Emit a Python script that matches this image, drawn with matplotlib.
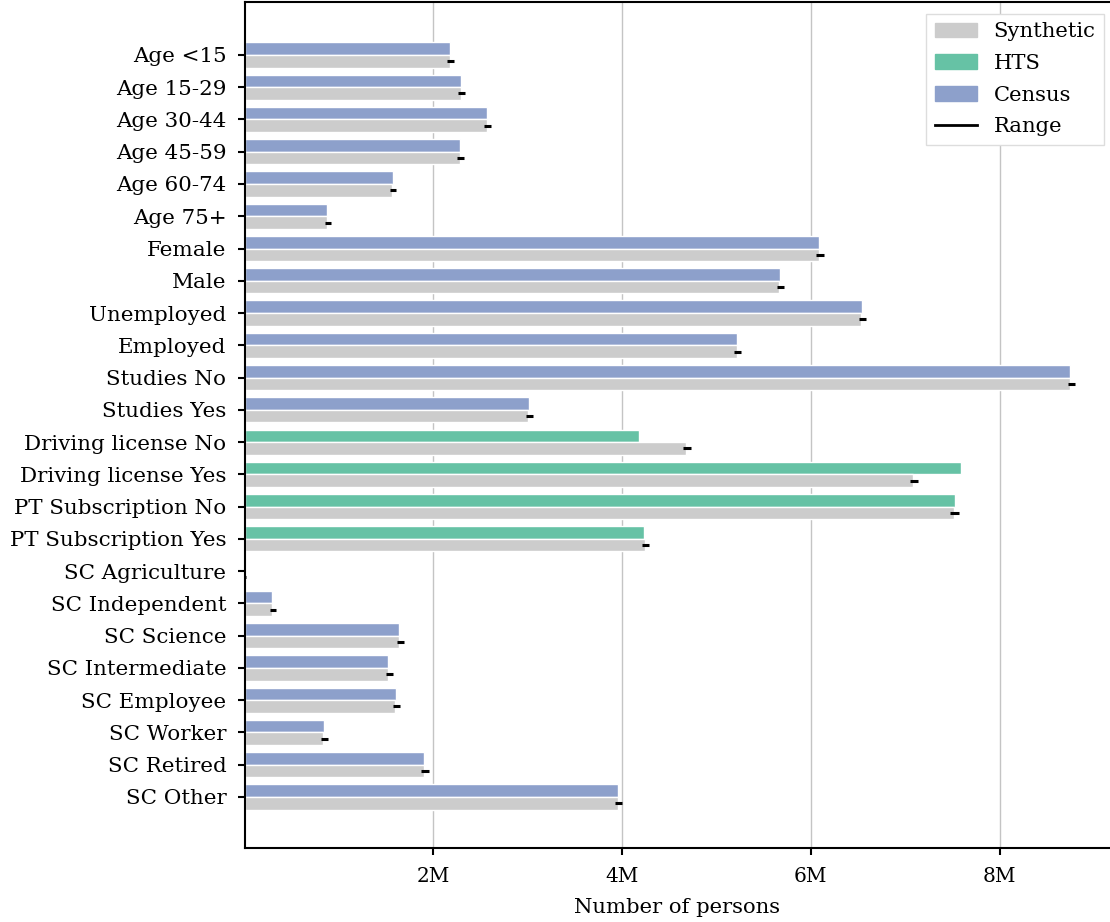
"""Comparaison population synthétique vs. recensement / HTS."""

import matplotlib

matplotlib.use("Agg")
import matplotlib.pyplot as plt
import numpy as np
from matplotlib.lines import Line2D
from matplotlib.patches import Patch
from matplotlib.ticker import FuncFormatter

plt.rcParams["font.family"] = ["DejaVu Serif"]

categories = [
    "Age <15", "Age 15-29", "Age 30-44", "Age 45-59", "Age 60-74", "Age 75+",
    "Female", "Male", "Unemployed", "Employed", "Studies No", "Studies Yes",
    "Driving license No", "Driving license Yes",
    "PT Subscription No", "PT Subscription Yes",
    "SC Agriculture", "SC Independent", "SC Science", "SC Intermediate",
    "SC Employee", "SC Worker", "SC Retired", "SC Other",
]
# source of the reference value for each category
reference_source = ["Census"] * 12 + ["HTS"] * 4 + ["Census"] * 8

# values in millions of persons
reference_values = [
    2.18, 2.29, 2.565, 2.28, 1.57, 0.875,
    6.09, 5.67, 6.54, 5.22, 8.75, 3.01,
    4.18, 7.59, 7.53, 4.235,
    0.015, 0.295, 1.64, 1.525, 1.60, 0.84, 1.905, 3.96,
]
synthetic_values = [
    2.175, 2.29, 2.565, 2.28, 1.565, 0.87,
    6.09, 5.665, 6.535, 5.215, 8.745, 3.005,
    4.68, 7.085, 7.515, 4.24,
    0.015, 0.29, 1.64, 1.52, 1.595, 0.835, 1.90, 3.955,
]
range_low = [
    2.15, 2.265, 2.54, 2.255, 1.54, 0.85,
    6.06, 5.64, 6.51, 5.19, 8.72, 2.98,
    4.65, 7.05, 7.48, 4.215,
    0.01, 0.27, 1.615, 1.495, 1.57, 0.81, 1.875, 3.925,
]
range_high = [
    2.22, 2.335, 2.61, 2.325, 1.61, 0.915,
    6.14, 5.715, 6.59, 5.265, 8.795, 3.055,
    4.73, 7.14, 7.565, 4.285,
    0.02, 0.33, 1.685, 1.57, 1.645, 0.885, 1.95, 4.0,
]

COLORS = {"Synthetic": "#cccccc", "HTS": "#66c2a5", "Census": "#8da0cb"}


def main():
    fig = plt.figure(figsize=(11.1, 9.22), dpi=100)
    ax = fig.add_axes([0.2203, 0.0803, 0.7797, 0.9175])

    positions = np.arange(len(categories))
    height = 0.39
    ref_colors = [COLORS[s] for s in reference_source]

    ax.barh(positions - height / 2, reference_values, height=height,
            color=ref_colors, edgecolor="white", linewidth=1, zorder=2)
    ax.barh(positions + height / 2, synthetic_values, height=height,
            color=COLORS["Synthetic"], edgecolor="white", linewidth=1, zorder=2)
    ax.hlines(positions + height / 2, range_low, range_high,
              color="black", linewidth=2.2, zorder=3)

    ax.set_yticks(positions)
    ax.set_yticklabels(categories, fontsize=15.4)
    ax.set_ylim(len(categories) - 1 + 1.58, -1.64)

    ax.set_xlim(0, 9.17)
    ax.set_xticks([2, 4, 6, 8])
    ax.xaxis.set_major_formatter(FuncFormatter(lambda v, _: f"{v:.0f}M"))
    ax.tick_params(axis="x", labelsize=14.5, length=5, width=1.5, pad=9)
    ax.tick_params(axis="y", length=5, width=1.5, pad=8)
    ax.set_xlabel("Number of persons", fontsize=15.2, labelpad=8)

    ax.set_axisbelow(True)
    ax.grid(axis="x", color="#c4c4c4", linewidth=1)

    for side in ("left", "bottom", "top"):
        ax.spines[side].set_linewidth(1.5)
    ax.spines["right"].set_visible(False)

    handles = [
        Patch(color=COLORS["Synthetic"], label="Synthetic"),
        Patch(color=COLORS["HTS"], label="HTS"),
        Patch(color=COLORS["Census"], label="Census"),
        Line2D([], [], color="black", linewidth=2, label="Range"),
    ]
    ax.legend(handles=handles, loc="upper right", fontsize=15.2,
              labelspacing=0.6, bbox_to_anchor=(0.993, 0.986),
              borderaxespad=0, fancybox=False, framealpha=1,
              edgecolor="#dddddd")

    fig.savefig("out.png", dpi=100)
    plt.close(fig)


if __name__ == "__main__":
    main()
